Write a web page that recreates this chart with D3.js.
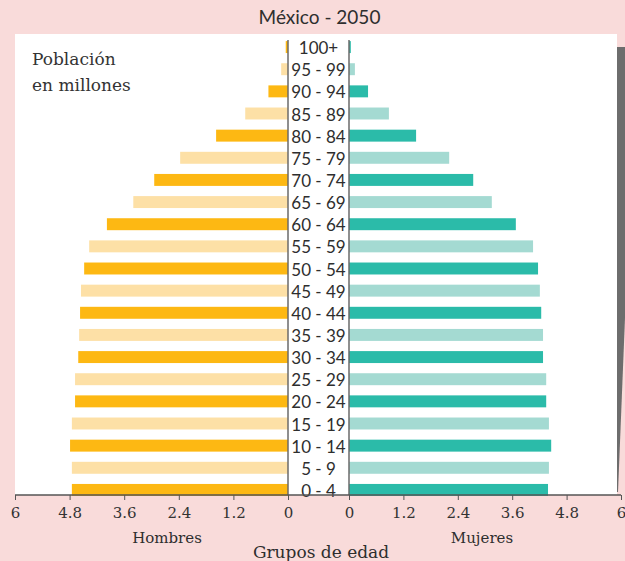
<!DOCTYPE html>
<html>
<head>
<meta charset="utf-8">
<script src="https://cdn.jsdelivr.net/npm/d3@7"></script>
<style>
    html, body { margin: 0; padding: 0; background: #f9dbda; }
    svg { display: block; }
</style>
</head>
<body>
<div id="chart"></div>
<script>
// Age groups, bottom to top
var ageGroups = ["0 - 4", "5 - 9", "10 - 14", "15 - 19", "20 - 24", "25 - 29", "30 - 34",
    "35 - 39", "40 - 44", "45 - 49", "50 - 54", "55 - 59", "60 - 64", "65 - 69",
    "70 - 74", "75 - 79", "80 - 84", "85 - 89", "90 - 94", "95 - 99", "100+"];

// Population in millions
var hombres = [4.75, 4.75, 4.79, 4.75, 4.68, 4.68, 4.61, 4.59, 4.57, 4.55, 4.48,
    4.37, 3.98, 3.40, 2.94, 2.37, 1.58, 0.94, 0.43, 0.15, 0.05];
var mujeres = [4.39, 4.41, 4.46, 4.41, 4.35, 4.35, 4.28, 4.28, 4.24, 4.21, 4.17,
    4.06, 3.68, 3.15, 2.74, 2.21, 1.48, 0.88, 0.42, 0.13, 0.04];

var tickValues = [0, 1.2, 2.4, 3.6, 4.8, 6];

var width = 625, height = 561;
var axisY = 495;

var svg = d3.select("#chart").append("svg")
    .attr("width", width)
    .attr("height", height);

svg.append("rect")
    .attr("width", width).attr("height", height)
    .attr("fill", "#f9dbda");

// white plot panel
svg.append("rect")
    .attr("x", 15).attr("y", 34)
    .attr("width", 602).attr("height", axisY - 34)
    .attr("fill", "#ffffff");

// grey sliver on the right edge
svg.append("polygon")
    .attr("points", "617,47 625,47 625,318 618,492 617,492")
    .attr("fill", "#6d6d6d");

var xLeft = d3.scaleLinear().domain([0, 6]).range([288, 15]);
var xRight = d3.scaleLinear().domain([0, 6]).range([349, 621]);
var y = d3.scaleBand().domain(ageGroups.slice().reverse())
    .range([36, 501]).paddingInner(0.46).paddingOuter(0.23);

svg.append("g").selectAll("rect")
    .data(hombres)
    .enter().append("rect")
    .attr("x", function(d) { return xLeft(d); })
    .attr("y", function(d, i) { return y(ageGroups[i]); })
    .attr("width", function(d) { return xLeft(0) - xLeft(d); })
    .attr("height", y.bandwidth())
    .attr("fill", function(d, i) { return i % 2 === 0 ? "#fdb813" : "#fde0a6"; });

svg.append("g").selectAll("rect")
    .data(mujeres)
    .enter().append("rect")
    .attr("x", xRight(0))
    .attr("y", function(d, i) { return y(ageGroups[i]); })
    .attr("width", function(d) { return xRight(d) - xRight(0); })
    .attr("height", y.bandwidth())
    .attr("fill", function(d, i) { return i % 2 === 0 ? "#2bbba9" : "#a4dad2"; });

// centre lines
[xLeft(0), xRight(0)].forEach(function(x) {
    svg.append("line")
        .attr("x1", x).attr("x2", x)
        .attr("y1", 40).attr("y2", axisY)
        .attr("stroke", "#6a6a6a")
        .attr("stroke-width", 1.5);
});

// age labels
svg.append("g").selectAll("text")
    .data(ageGroups)
    .enter().append("text")
    .attr("x", 318.5)
    .attr("y", function(d) { return y(d) + y.bandwidth() / 2 + 7; })
    .attr("text-anchor", "middle")
    .style("font-family", "Lato, sans-serif")
    .style("font-size", "17px")
    .style("fill", "#2e2e2e")
    .text(function(d) { return d; });

// axes
function drawAxis(scale) {
    var g = svg.append("g")
        .attr("transform", "translate(0," + axisY + ")")
        .call(d3.axisBottom(scale)
            .tickValues(tickValues)
            .tickSize(5)
            .tickPadding(7)
            .tickFormat(d3.format("")));
    g.select(".domain").remove();
    g.selectAll("line").attr("stroke", "#555");
    g.selectAll("text")
        .style("font-family", "'DejaVu Serif', serif")
        .style("font-size", "15px")
        .style("fill", "#333");
}
drawAxis(xLeft);
drawAxis(xRight);

svg.append("line")
    .attr("x1", 15).attr("x2", 621)
    .attr("y1", axisY).attr("y2", axisY)
    .attr("stroke", "#555")
    .attr("stroke-width", 1.5);

// texts
function addText(x, yPos, txt, font, size) {
    svg.append("text")
        .attr("x", x).attr("y", yPos)
        .attr("text-anchor", "middle")
        .style("font-family", font)
        .style("font-size", size)
        .style("fill", "#2e2e2e")
        .text(txt);
}
addText(319.5, 24, "México - 2050", "Lato, sans-serif", "19px");
addText(167, 543, "Hombres", "'DejaVu Serif', serif", "15px");
addText(482, 543, "Mujeres", "'DejaVu Serif', serif", "15px");
addText(321, 558, "Grupos de edad", "'DejaVu Serif', serif", "17px");

svg.append("text")
    .attr("x", 32).attr("y", 65)
    .style("font-family", "'DejaVu Serif', serif")
    .style("font-size", "17px")
    .style("fill", "#333")
    .text("Población");
svg.append("text")
    .attr("x", 32).attr("y", 91)
    .style("font-family", "'DejaVu Serif', serif")
    .style("font-size", "17px")
    .style("fill", "#333")
    .text("en millones");
</script>
</body>
</html>
